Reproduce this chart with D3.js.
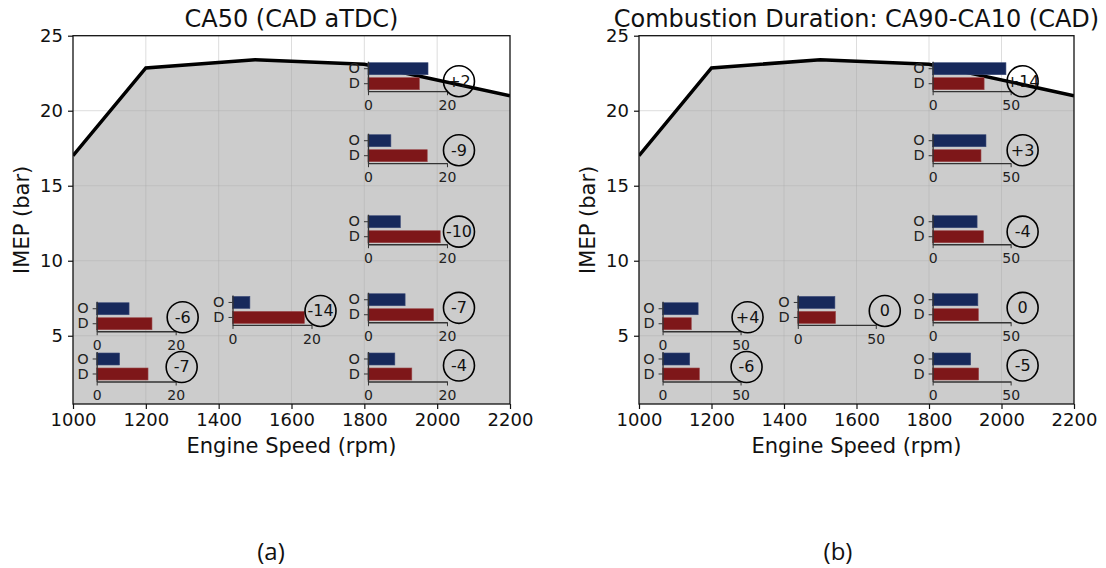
<!DOCTYPE html>
<html>
<head>
<meta charset="utf-8">
<script src="https://cdn.jsdelivr.net/npm/d3@7"></script>
<style>
  html, body { margin: 0; padding: 0; background: #ffffff; }
  svg { display: block; font-family: "DejaVu Sans", sans-serif; }
</style>
</head>
<body>
<svg id="chart" width="1106" height="568"></svg>
<script>
// Full-load IMEP limit of the engine map
const speeds = [1000, 1200, 1500, 1800, 2200];
const imepLimit = [17.0, 22.85, 23.4, 23.1, 21.0];

const xTicks = [1000, 1200, 1400, 1600, 1800, 2000, 2200];
const yTicks = [5, 10, 15, 20, 25];

const panelTitles = ["CA50 (CAD aTDC)", "Combustion Duration: CA90-CA10 (CAD)"];
const panelTags = ["(a)", "(b)"];
const xLabel = "Engine Speed (rpm)";
const yLabel = "IMEP (bar)";

// bar categories: O (original) and D (derived)
const barCategories = ["O", "D"];

// operating points (same order in both panels)
const pointSpeed = [1810, 1810, 1810, 1810, 1810, 1065, 1065, 1438];
const pointImep  = [21.3, 16.5, 11.1, 5.9, 1.95, 5.3, 1.95, 5.72];

// CA50 values
const ca50O = [15.2, 5.8, 8.2, 9.4, 6.8, 8.2, 5.8, 4.4];
const ca50D = [13.0, 15.0, 18.3, 16.6, 11.1, 14.0, 13.0, 18.2];
const ca50Delta = ["+2", "-9", "-10", "-7", "-4", "-6", "-7", "-14"];
const ca50Ticks = [0, 20];

// combustion duration values
const durO = [47.0, 34.2, 28.5, 29.0, 24.4, 22.8, 17.4, 23.8];
const durD = [33.0, 31.0, 32.6, 29.3, 29.5, 18.4, 23.6, 24.2];
const durDelta = ["+14", "+3", "-4", "0", "-5", "+4", "-6", "0"];
const durTicks = [0, 50];

// placement of the difference badge relative to each inset's far corner (px)
const badgeDx = [12, 12, 12, 12, 12, 7, 6, 9];
const badgeDy = [-10, -13, -12.6, -14.4, -16, -14, -14.5, -14];

const panels = [
  { x0: 73, x1: 510, title: panelTitles[0], tag: panelTags[0], tagX: 271,
    O: ca50O, D: ca50D, delta: ca50Delta, ticks: ca50Ticks, insetW: 79, yLabelX: 22 },
  { x0: 639, x1: 1074, title: panelTitles[1], tag: panelTags[1], tagX: 838,
    O: durO, D: durD, delta: durDelta, ticks: durTicks, insetW: 78, yLabelX: 588 }
];

const plotTop = 35.7, plotBottom = 404;
const colO = "#17295b", colD = "#7e1719";
const svg = d3.select("#chart");

panels.forEach((p, pi) => {
  const x = d3.scaleLinear().domain([1000, 2200]).range([p.x0, p.x1]);
  const y = d3.scaleLinear().domain([0.45, 25]).range([plotBottom, plotTop]);
  const g = svg.append("g");

  const clipId = "clip" + pi;
  svg.append("clipPath").attr("id", clipId)
    .append("rect").attr("x", p.x0).attr("y", plotTop)
    .attr("width", p.x1 - p.x0).attr("height", plotBottom - plotTop);

  const pts = speeds.map((s, i) => [s, imepLimit[i]]);

  // shaded operating region under the load limit
  g.append("path")
    .datum(pts)
    .attr("clip-path", `url(#${clipId})`)
    .attr("fill", "#cccccc")
    .attr("d", d3.area().x(d => x(d[0])).y0(y(0.45)).y1(d => y(d[1])));

  // grid
  const grid = g.append("g").attr("stroke", "rgba(170,170,170,0.4)").attr("stroke-width", 1);
  xTicks.slice(1, -1).forEach(t => grid.append("line")
    .attr("x1", x(t)).attr("x2", x(t)).attr("y1", plotTop).attr("y2", plotBottom));
  yTicks.slice(0, -1).forEach(t => grid.append("line")
    .attr("x1", p.x0).attr("x2", p.x1).attr("y1", y(t)).attr("y2", y(t)));

  // load limit line
  g.append("path")
    .datum(pts)
    .attr("clip-path", `url(#${clipId})`)
    .attr("fill", "none")
    .attr("stroke", "#000")
    .attr("stroke-width", 3.5)
    .attr("d", d3.line().x(d => x(d[0])).y(d => y(d[1])));

  // frame
  g.append("rect").attr("x", p.x0).attr("y", plotTop)
    .attr("width", p.x1 - p.x0).attr("height", plotBottom - plotTop)
    .attr("fill", "none").attr("stroke", "#111").attr("stroke-width", 1.3);

  // axes
  const ax = g.append("g").attr("transform", `translate(0,${plotBottom})`)
    .call(d3.axisBottom(x).tickValues(xTicks).tickFormat(d3.format("d"))
      .tickSize(5).tickPadding(4).tickSizeOuter(0));
  const ay = g.append("g").attr("transform", `translate(${p.x0},0)`)
    .call(d3.axisLeft(y).tickValues(yTicks).tickSize(5).tickPadding(5).tickSizeOuter(0));
  [ax, ay].forEach(a => {
    a.select(".domain").remove();
    a.selectAll("line").attr("stroke", "#111").attr("stroke-width", 1.2);
    a.selectAll("text").attr("font-size", 18).attr("fill", "#111")
      .attr("font-family", "DejaVu Sans, sans-serif");
  });

  // titles and labels
  g.append("text").attr("x", (p.x0 + p.x1) / 2).attr("y", 27)
    .attr("text-anchor", "middle").attr("font-size", 24).attr("fill", "#111").text(p.title);
  g.append("text").attr("x", (p.x0 + p.x1) / 2).attr("y", 453)
    .attr("text-anchor", "middle").attr("font-size", 21).attr("fill", "#111").text(xLabel);
  g.append("text").attr("transform", `translate(${p.yLabelX},${(plotTop + plotBottom) / 2}) rotate(-90)`)
    .attr("text-anchor", "middle").attr("dominant-baseline", "central")
    .attr("font-size", 21).attr("fill", "#111").text(yLabel);
  g.append("text").attr("x", p.tagX).attr("y", 550)
    .attr("text-anchor", "middle").attr("dominant-baseline", "central")
    .attr("font-family", "Open Sans, Liberation Sans, sans-serif")
    .attr("font-size", 24).attr("fill", "#111").text(p.tag);

  // inset bar charts at each operating point
  pointSpeed.forEach((s, i) => {
    const ox = x(s), oy = y(pointImep[i]);
    const xs = d3.scaleLinear().domain([0, p.ticks[1]]).range([ox, ox + p.insetW]);
    const ys = d3.scaleBand().domain(barCategories).range([oy - 30, oy])
      .paddingInner(0.2).paddingOuter(0.1);
    const ig = g.append("g");
    const vals = [p.O[i], p.D[i]];
    ig.selectAll("rect").data(barCategories).join("rect")
      .attr("x", xs(0))
      .attr("y", c => ys(c))
      .attr("width", (c, k) => xs(vals[k]) - xs(0))
      .attr("height", ys.bandwidth())
      .attr("fill", (c, k) => k === 0 ? colO : colD)
      .attr("stroke", (c, k) => k === 0 ? "#3a4a78" : "#9a4648")
      .attr("stroke-width", 0.6);

    const bx = ig.append("g").attr("transform", `translate(0,${oy})`)
      .call(d3.axisBottom(xs).tickValues(p.ticks).tickSize(4).tickPadding(5).tickSizeOuter(0));
    const by = ig.append("g").attr("transform", `translate(${ox},0)`)
      .call(d3.axisLeft(ys).tickSize(4).tickPadding(4).tickSizeOuter(0));
    [bx, by].forEach(a => {
      a.select(".domain").attr("stroke", "#333").attr("stroke-width", 1.3);
      a.selectAll("line").attr("stroke", "#333").attr("stroke-width", 1);
      a.selectAll("text").attr("fill", "#222")
        .attr("font-family", "DejaVu Sans, sans-serif");
    });
    bx.selectAll("text").attr("font-size", 14);
    by.selectAll("text").attr("font-size", 14.5);

    const cx = ox + p.insetW + badgeDx[i], cy = oy + badgeDy[i];
    ig.append("circle").attr("cx", cx).attr("cy", cy).attr("r", 15.5)
      .attr("fill", "none").attr("stroke", "#000").attr("stroke-width", 1.6);
    ig.append("text").attr("x", cx).attr("y", cy)
      .attr("text-anchor", "middle").attr("dominant-baseline", "central")
      .attr("font-size", 16).attr("fill", "#111").text(p.delta[i]);
  });
});
</script>
</body>
</html>
